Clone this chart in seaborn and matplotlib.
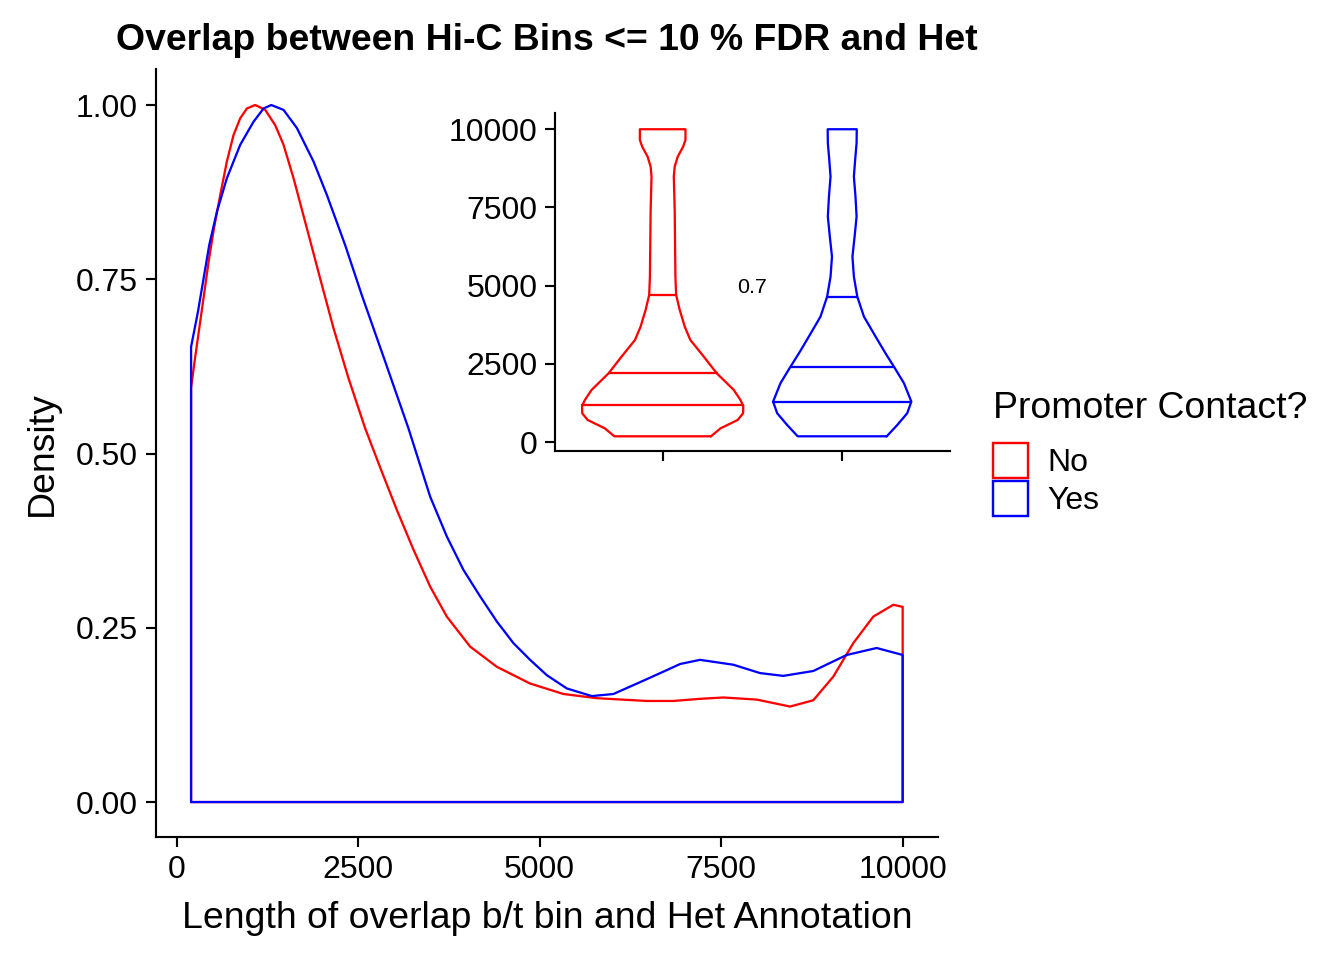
import numpy as np
import pandas as pd
import seaborn as sns
import matplotlib
matplotlib.use("Agg")
import matplotlib.pyplot as plt
from matplotlib.patches import Patch

# ---------------- data ----------------
groups = ["No", "Yes"]
colors = {"No": "#FF0000", "Yes": "#0000FF"}

# scaled density curves (main panel)
no_x = [200, 248, 313, 377, 441, 515, 602, 693, 785, 877, 969, 1083, 1221,
        1359, 1473, 1611, 1795, 1978, 2161, 2368, 2598, 2804, 3034, 3263,
        3493, 3722, 4043, 4411, 4869, 5328, 5787, 6476, 6842, 7200, 7530,
        7990, 8449, 8769, 9045, 9320, 9595, 9871, 10000]
no_d = [0.594, 0.632, 0.680, 0.727, 0.775, 0.823, 0.871, 0.919, 0.957, 0.981,
        0.995, 1.000, 0.993, 0.971, 0.943, 0.895, 0.823, 0.751, 0.680, 0.608,
        0.536, 0.480, 0.419, 0.362, 0.309, 0.266, 0.223, 0.194, 0.170, 0.155,
        0.149, 0.145, 0.145, 0.148, 0.150, 0.147, 0.137, 0.146, 0.180, 0.228,
        0.266, 0.283, 0.280]

yes_x = [200, 294, 372, 450, 556, 693, 877, 1060, 1198, 1304, 1473, 1657,
         1886, 2070, 2322, 2552, 2873, 3194, 3493, 3722, 3951, 4181, 4411,
         4639, 4869, 5099, 5374, 5719, 6016, 6384, 6704, 6934, 7209, 7668,
         8036, 8356, 8769, 9229, 9642, 10000]
yes_d = [0.653, 0.703, 0.751, 0.799, 0.847, 0.895, 0.943, 0.976, 0.995, 1.000,
         0.993, 0.967, 0.919, 0.871, 0.799, 0.727, 0.632, 0.536, 0.438, 0.381,
         0.333, 0.295, 0.259, 0.228, 0.204, 0.182, 0.163, 0.152, 0.155, 0.172,
         0.187, 0.198, 0.204, 0.197, 0.185, 0.181, 0.188, 0.211, 0.221, 0.211]

# violin profiles (inset): value and half-width (category units)
no_vy = [190, 447, 712, 926, 1160, 1351, 1671, 2204, 2735, 3268, 3693, 4227,
         4706, 5291, 6358, 7422, 8486, 8805, 9125, 9444, 9658, 10000]
no_vw = [0.269, 0.323, 0.418, 0.448, 0.449, 0.433, 0.396, 0.301, 0.229, 0.154,
         0.123, 0.095, 0.075, 0.071, 0.069, 0.067, 0.062, 0.067, 0.084, 0.114,
         0.127, 0.127]
yes_vy = [190, 553, 926, 1297, 1885, 2415, 2843, 3374, 4013, 4652, 5291, 5930,
          6569, 7208, 7847, 8486, 9019, 9553, 10000]
yes_vw = [0.248, 0.307, 0.362, 0.385, 0.344, 0.288, 0.241, 0.186, 0.121, 0.084,
          0.065, 0.057, 0.069, 0.080, 0.074, 0.065, 0.072, 0.080, 0.081]

# quantile lines (25/50/75 %) and their half-widths
no_q = [1175, 2204, 4706]
no_qw = [0.449, 0.300, 0.074]
yes_q = [1297, 2415, 4652]
yes_qw = [0.385, 0.288, 0.084]

p_label = "0.7"
p_y = 4940

# ---------------- style ----------------
sns.set_theme(style="ticks")
plt.rcParams["font.family"] = ["Liberation Sans", "DejaVu Sans"]
plt.rcParams.update({
    "axes.linewidth": 0.8,
    "xtick.major.width": 0.8,
    "ytick.major.width": 0.8,
    "xtick.major.size": 3.6,
    "ytick.major.size": 3.6,
    "xtick.color": "black",
    "ytick.color": "black",
    "xtick.labelcolor": "black",
    "ytick.labelcolor": "black",
    "axes.edgecolor": "black",
    "axes.labelcolor": "black",
    "axes.titlecolor": "black",
    "text.color": "black",
    "lines.solid_joinstyle": "round",
})

fig = plt.figure(figsize=(7, 5), dpi=192)
ax = fig.add_axes([0.1157, 0.1278, 0.5824, 0.80])

lw = 0.85
curves = {"No": (no_x, no_d), "Yes": (yes_x, yes_d)}
for g in groups:
    xs, ds = curves[g]
    px = [xs[0]] + list(xs) + [xs[-1], xs[0]]
    py = [0.0] + list(ds) + [0.0, 0.0]
    df = pd.DataFrame({"x": px, "y": py})
    sns.lineplot(data=df, x="x", y="y", sort=False, estimator=None,
                 color=colors[g], lw=lw, ax=ax)

ax.set_xlim(-290, 10490)
ax.set_ylim(-0.0506, 1.0512)
ax.set_xticks([0, 2500, 5000, 7500, 10000])
ax.set_xticklabels(["0", "2500", "5000", "7500", "10000"])
ax.set_yticks([0, 0.25, 0.5, 0.75, 1.0])
ax.set_yticklabels(["0.00", "0.25", "0.50", "0.75", "1.00"])
ax.tick_params(labelsize=12, pad=3)
ax.set_xlabel("Length of overlap b/t bin and Het Annotation", fontsize=14, labelpad=6)
ax.set_ylabel("Density", fontsize=14, labelpad=6)
ax.set_title("Overlap between Hi-C Bins <= 10 % FDR and Het", fontsize=14,
             fontweight="bold", pad=7.4)
sns.despine(ax=ax)

# ---------------- inset violins ----------------
iax = fig.add_axes([0.4129, 0.5302, 0.2939, 0.3518])
profiles = {"No": (no_vy, no_vw, no_q, no_qw), "Yes": (yes_vy, yes_vw, yes_q, yes_qw)}
for i, g in enumerate(groups):
    c = i + 1
    vy, vw, q, qw = profiles[g]
    vy = np.array(vy); vw = np.array(vw)
    xs = np.concatenate([c + vw, (c - vw)[::-1], [c + vw[0]]])
    ys = np.concatenate([vy, vy[::-1], [vy[0]]])
    iax.plot(xs, ys, color=colors[g], lw=lw)
    for qq, w in zip(q, qw):
        iax.plot([c - w, c + w], [qq, qq], color=colors[g], lw=lw)

iax.text(1.5, p_y, p_label, fontsize=8, ha="center", va="center")
iax.set_xlim(0.4, 2.6)
iax.set_ylim(-280, 10510)
iax.set_xticks([1, 2])
iax.set_xticklabels(["", ""])
iax.set_yticks([0, 2500, 5000, 7500, 10000])
iax.set_yticklabels(["0", "2500", "5000", "7500", "10000"])
iax.tick_params(labelsize=12, pad=3)
iax.set_facecolor("none")
sns.despine(ax=iax)

# ---------------- legend ----------------
handles = [Patch(facecolor="white", edgecolor=colors[g], lw=0.9, label=g) for g in groups]
leg = fig.legend(handles=handles, title="Promoter Contact?", loc="upper left",
                 bbox_to_anchor=(0.722, 0.616), frameon=False, fontsize=12,
                 title_fontsize=14, handlelength=1.094, handleheight=1.306,
                 handletextpad=0.6, labelspacing=0.1, borderpad=0.2,
                 alignment="left")
leg._legend_box.sep = 6.3

fig.savefig("out.png", dpi=192)
